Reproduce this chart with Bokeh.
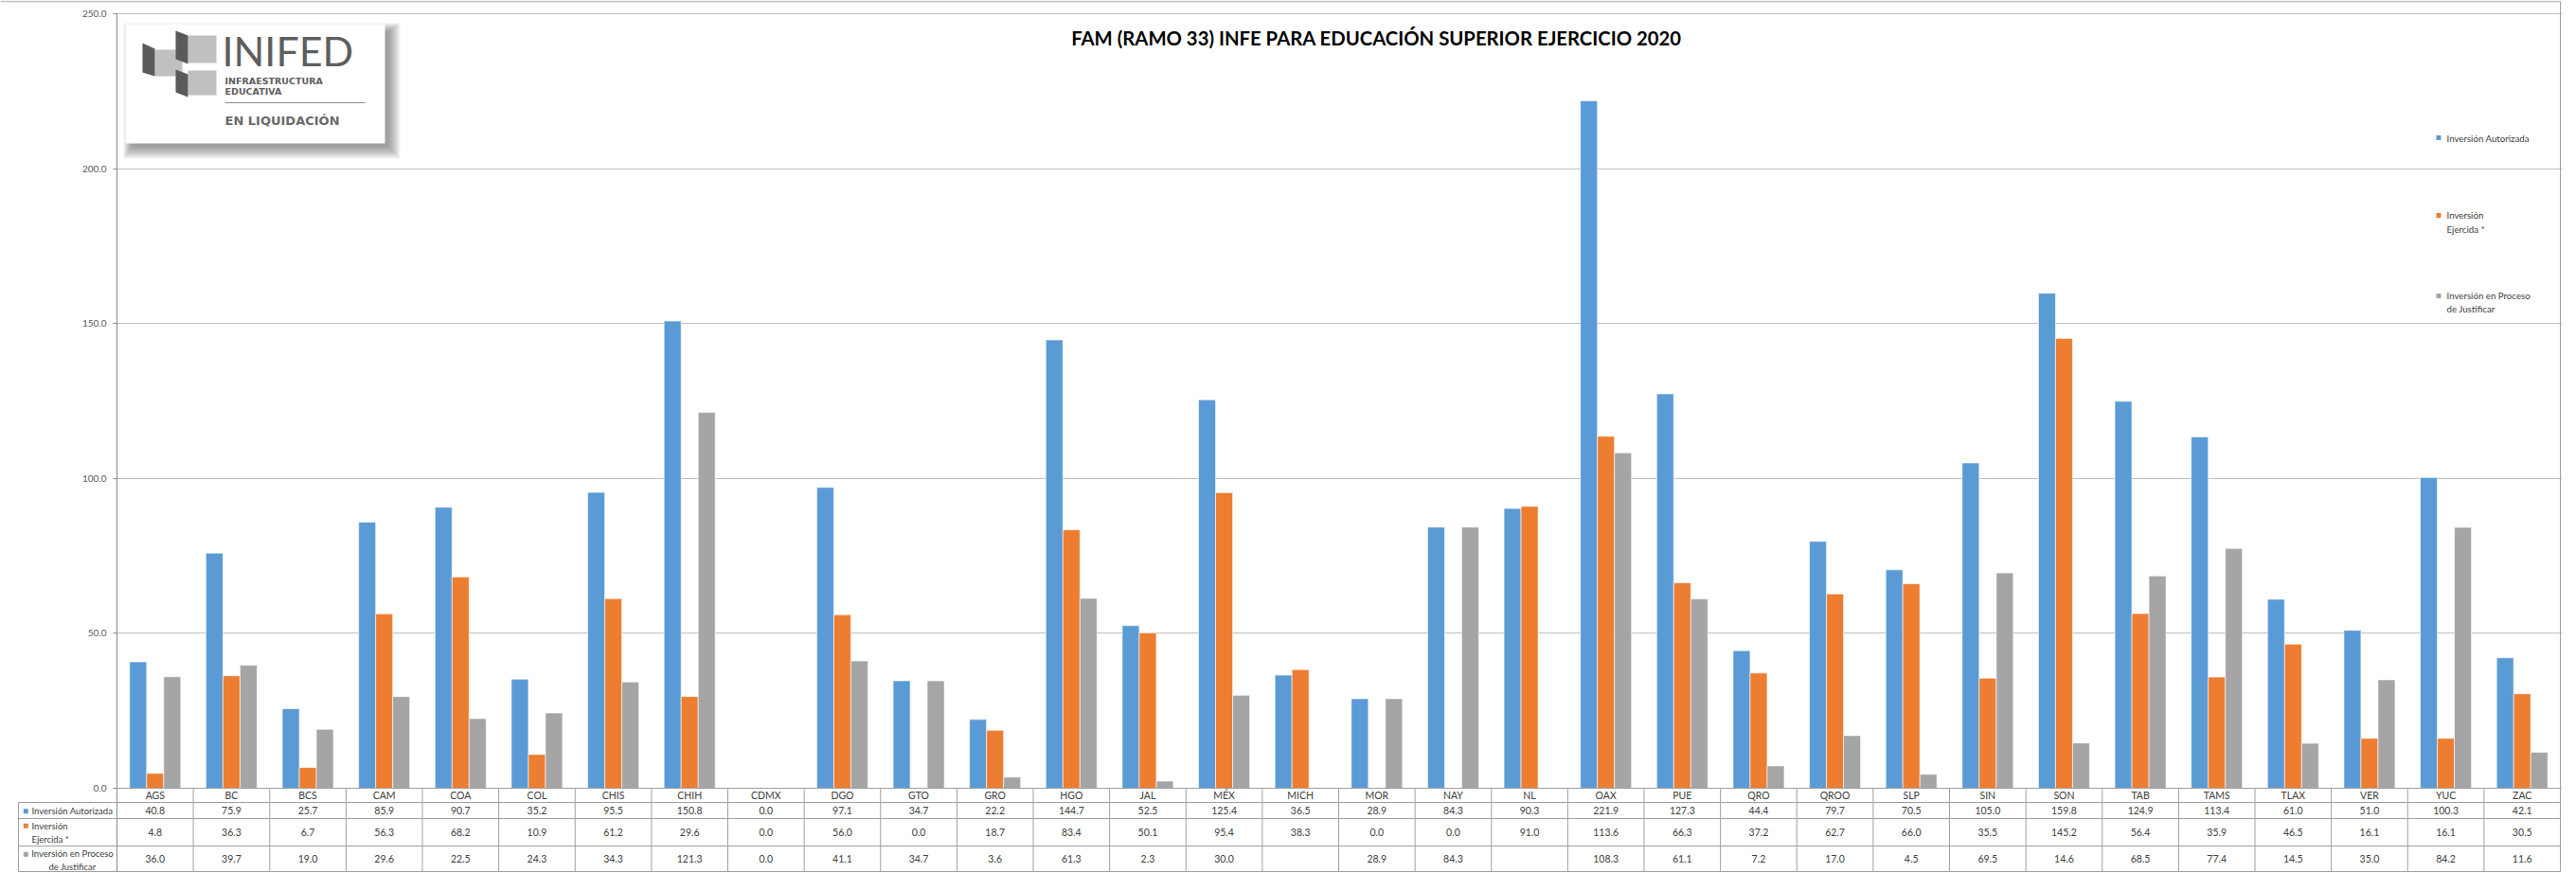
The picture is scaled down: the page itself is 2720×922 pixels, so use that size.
import math
from bokeh.plotting import figure
from bokeh.models import (ColumnDataSource, Range1d, FixedTicker, PrintfTickFormatter,
                          LinearAxis, Grid, GlobalInlineStyleSheet)
from bokeh.core.properties import value
from bokeh.transform import dodge
from bokeh.embed import file_html
from bokeh.resources import INLINE

# ---------------- data ----------------
states = ["AGS", "BC", "BCS", "CAM", "COA", "COL", "CHIS", "CHIH", "CDMX", "DGO", "GTO",
          "GRO", "HGO", "JAL", "MÉX", "MICH", "MOR", "NAY", "NL", "OAX", "PUE", "QRO",
          "QROO", "SLP", "SIN", "SON", "TAB", "TAMS", "TLAX", "VER", "YUC", "ZAC"]
autorizada = [40.8, 75.9, 25.7, 85.9, 90.7, 35.2, 95.5, 150.8, 0.0, 97.1, 34.7, 22.2, 144.7,
              52.5, 125.4, 36.5, 28.9, 84.3, 90.3, 221.9, 127.3, 44.4, 79.7, 70.5, 105.0,
              159.8, 124.9, 113.4, 61.0, 51.0, 100.3, 42.1]
ejercida = [4.8, 36.3, 6.7, 56.3, 68.2, 10.9, 61.2, 29.6, 0.0, 56.0, 0.0, 18.7, 83.4, 50.1,
            95.4, 38.3, 0.0, 0.0, 91.0, 113.6, 66.3, 37.2, 62.7, 66.0, 35.5, 145.2, 56.4,
            35.9, 46.5, 16.1, 16.1, 30.5]
proceso = [36.0, 39.7, 19.0, 29.6, 22.5, 24.3, 34.3, 121.3, 0.0, 41.1, 34.7, 3.6, 61.3, 2.3,
           30.0, None, 28.9, 84.3, None, 108.3, 61.1, 7.2, 17.0, 4.5, 69.5, 14.6, 68.5,
           77.4, 14.5, 35.0, 84.2, 11.6]
series_names = ["Inversión Autorizada", "Inversión Ejercida *",
                "Inversión en Proceso de Justificar"]
series_labels = ["Inversión Autorizada", "Inversión\nEjercida *",
                 "Inversión en Proceso\nde Justificar"]
series_colors = ["#5B9BD5", "#ED7D31", "#A5A5A5"]
y_ticks = [0, 50, 100, 150, 200, 250]
title_text = "FAM (RAMO 33) INFE PARA EDUCACIÓN SUPERIOR EJERCICIO 2020"

# ---------------- layout (canvas pixels) ----------------
W, H = 2716, 921
FRAME_L, FRAME_R, FRAME_T, FRAME_B = 0, 2705, 0, 921
AXIS_X, PLOT_R = 123, 2703      # plot-area left/right edges
ZERO_Y, TOP_Y = 832, 14         # pixel rows of 0 and 250
n = len(states)
px_x = (PLOT_R - AXIS_X) / n
px_y = (ZERO_Y - TOP_Y) / y_ticks[-1]


def xd(px):
    return (px - AXIS_X) / px_x


def yd(py):
    return (ZERO_Y - py) / px_y


FONT = "Lato"
TXT = "#404040"
GRID = "#BFBFBF"
TLINE = "#A0A0A0"

p = figure(width=W, height=H, x_range=Range1d(xd(FRAME_L), xd(FRAME_R)),
           y_range=Range1d(yd(FRAME_B), yd(FRAME_T)),
           output_backend="svg", toolbar_location=None, title=None,
           x_axis_location=None, y_axis_location=None,
           min_border_left=FRAME_L, min_border_right=W - FRAME_R,
           min_border_top=FRAME_T, min_border_bottom=H - FRAME_B,
           background_fill_color="white", border_fill_color="white")
p.outline_line_color = None
p.center = [r for r in p.center if not isinstance(r, Grid)]
p.stylesheets = [GlobalInlineStyleSheet(
    css="html, body { margin: 0 !important; padding: 0 !important; overflow: hidden; }")]

# value axis drawn at the left edge of the plot area
ax = LinearAxis(fixed_location=0, ticker=FixedTicker(ticks=y_ticks),
                formatter=PrintfTickFormatter(format="%.1f"),
                bounds=(yd(920), y_ticks[-1]))
ax.axis_line_color = "#8C8C8C"
ax.major_tick_line_color = "#8C8C8C"
ax.major_tick_out = 4
ax.major_tick_in = 0
ax.minor_tick_out = 0
ax.minor_tick_in = 0
ax.major_label_standoff = 7
ax.major_label_text_font = FONT
ax.major_label_text_font_size = "10px"
ax.major_label_text_color = "#595959"
p.add_layout(ax, "left")
p.add_layout(Grid(dimension=1, ticker=ax.ticker, grid_line_color=GRID, grid_line_width=1))

# hide grid lines left of the value axis
p.quad(left=xd(FRAME_L), right=xd(AXIS_X - 0.5), bottom=yd(834), top=yd(3),
       fill_color="white", line_color=None)
# chart border (top)
p.segment(x0=[xd(0)], x1=[n], y0=[yd(1)], y1=[yd(1)], line_color=GRID, line_width=1.5)


# ---------------- bars ----------------
def fmt(v):
    return "" if v is None else f"{v:.1f}"


src = ColumnDataSource(dict(
    xc=[i + 0.5 for i in range(n)],
    state=states,
    aut=autorizada,
    eje=ejercida,
    pro=[math.nan if v is None else v for v in proceso],
    aut_t=[fmt(v) for v in autorizada],
    eje_t=[fmt(v) for v in ejercida],
    pro_t=[fmt(v) for v in proceso],
))
bw = 18 / px_x
for k, (col, color) in enumerate(zip(["aut", "eje", "pro"], series_colors)):
    p.vbar(x=dodge("xc", (k - 1) * bw), top=col, bottom=0, width=bw, source=src,
           fill_color=color, line_color="white", line_width=0.6)

# ---------------- data table ----------------
row_edges = [847, 864, 893, 920]
row_centers = [(row_edges[i] + row_edges[i + 1]) / 2 for i in range(3)]
# column separators
p.segment(x0=list(range(1, n)), x1=list(range(1, n)), y0=0, y1=yd(row_edges[-1]),
          line_color=TLINE, line_width=1)
# right border of plot area + table
p.segment(x0=[n], x1=[n], y0=[yd(1)], y1=[yd(row_edges[-1])],
          line_color=TLINE, line_width=1)
# header row top line
p.segment(x0=[0], x1=[n], y0=[0], y1=[0], line_color=TLINE, line_width=1)
# row lines (including row-header column)
p.segment(x0=xd(19), x1=n, y0=[yd(v) for v in row_edges], y1=[yd(v) for v in row_edges],
          line_color=TLINE, line_width=1)
# left border of row-header column
p.segment(x0=[xd(19)], x1=[xd(19)], y0=[yd(row_edges[0])], y1=[yd(row_edges[-1])],
          line_color=TLINE, line_width=1)

p.text(x="xc", y=yd((ZERO_Y + row_edges[0]) / 2), text="state", source=src,
       text_font=value(FONT), text_font_size="10.5px", text_color=TXT,
       text_align="center", text_baseline="middle")
for col, yc in zip(["aut_t", "eje_t", "pro_t"], row_centers):
    p.text(x="xc", y=yd(yc), text=col, source=src,
           text_font=value(FONT), text_font_size="10.5px", text_color=TXT,
           text_align="center", text_baseline="middle")

# row headers
hdr = ColumnDataSource(dict(
    label=series_labels,
    color=series_colors,
    tx=[xd(33), xd(33), xd(76)],
    ty=[yd(856), yd(879), yd(908)],
    align=["left", "left", "center"],
    sy=[yd(856.3), yd(871.8), yd(901.8)],
))
p.scatter(x=xd(26.8), y="sy", source=hdr, marker="square", size=5,
          fill_color="color", line_color=None)
p.text(x="tx", y="ty", text="label", source=hdr, text_align="align",
       text_font=value(FONT), text_font_size="9.5px", text_color=TXT,
       text_baseline="middle")

# ---------------- legend (right) ----------------
leg_sq = [145, 227, 312]
leg_txt = [145, 234, 318.5]
p.scatter(x=xd(2574.5), y=[yd(v) for v in leg_sq], marker="square", size=5,
          fill_color=series_colors, line_color=None)
p.text(x=xd(2583), y=[yd(v) for v in leg_txt], text=series_labels,
       text_font=value(FONT), text_font_size="9.7px", text_color=TXT,
       text_align="left", text_baseline="middle")

# ---------------- title ----------------
p.text(x=xd(1453), y=yd(39.5), text=[title_text], text_font=value(FONT),
       text_font_size="20.3px", text_font_style="bold", text_color="black",
       text_align="center", text_baseline="middle")

# ---------------- logo ----------------
for j in range(10):
    p.quad(left=xd(130 + j), right=xd(422 - 1.4 * j), top=yd(24 + j),
           bottom=yd(167 - 1.4 * j), fill_color="#5A5A5A", fill_alpha=0.08, line_color=None)
p.quad(left=xd(132), right=xd(406), top=yd(25), bottom=yd(151),
       fill_color="white", line_color=None)
dark = [[(185, 32), (198, 37), (198, 67), (185, 62)],
        [(150, 45), (163, 51), (163, 80), (150, 76)],
        [(185, 73), (198, 78), (198, 102), (185, 97)]]
light = [[(198, 37), (228, 37), (228, 66), (198, 66)],
         [(163, 52), (192, 52), (192, 80), (163, 80)],
         [(198, 74), (228, 74), (228, 100), (198, 100)]]
p.patches(xs=[[xd(a) for a, b in s] for s in light], ys=[[yd(b) for a, b in s] for s in light],
          fill_color="#C0C0C0", line_color=None)
p.patches(xs=[[xd(a) for a, b in s] for s in dark], ys=[[yd(b) for a, b in s] for s in dark],
          fill_color="#5A5A5A", line_color=None)
p.text(x=xd(234), y=yd(52.5), text=["INIFED"], text_font=value(FONT), text_font_size="43px",
       text_color="#5E5E5E", text_align="left", text_baseline="middle")
p.text(x=xd(237), y=[yd(84.5), yd(95.5)], text=["INFRAESTRUCTURA", "EDUCATIVA"],
       text_font=value("DejaVu Sans"), text_font_size="9.5px", text_font_style="bold",
       text_color="#5E5E5E", text_align="left", text_baseline="middle")
p.segment(x0=[xd(237)], x1=[xd(385)], y0=[yd(108)], y1=[yd(108)],
          line_color="#8A8A8A", line_width=1)
p.text(x=xd(237), y=yd(127), text=["EN LIQUIDACIÓN"], text_font=value("DejaVu Sans"),
       text_font_size="13px", text_font_style="bold", text_color="#6A6A6A",
       text_align="left", text_baseline="middle")

open("out.html", "w").write(file_html(p, INLINE))
